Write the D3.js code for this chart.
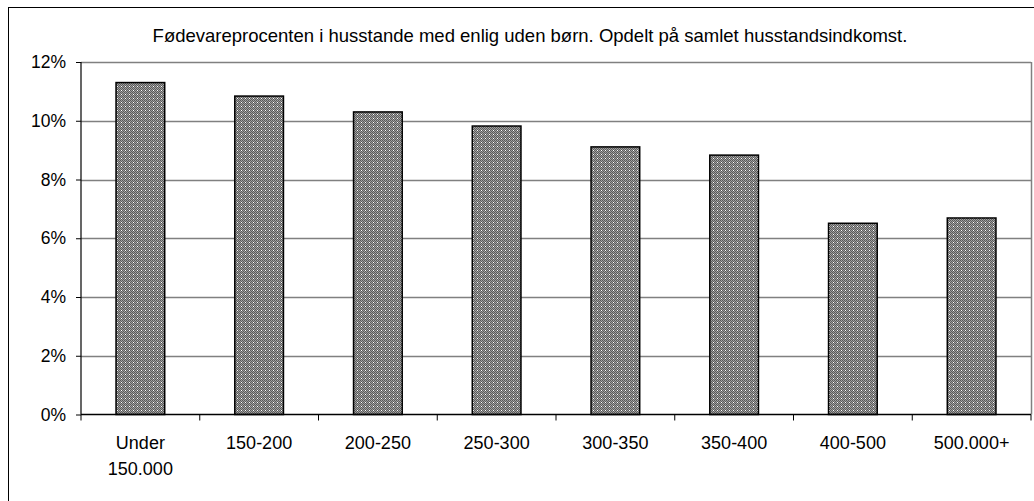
<!DOCTYPE html>
<html><head><meta charset="utf-8">
<script src="https://cdn.jsdelivr.net/npm/d3@7"></script>
<style>body{margin:0;background:#fff;} svg{display:block;}</style>
</head><body>
<script>
const categories = ["Under 150.000","150-200","200-250","250-300","300-350","350-400","400-500","500.000+"];
const values = [11.3, 10.84, 10.3, 9.82, 9.11, 8.83, 6.51, 6.69];
const yTicks = [0,2,4,6,8,10,12];
const title = "Fødevareprocenten i husstande med enlig uden børn. Opdelt på samlet husstandsindkomst.";

const W=1034,H=501;
const svg=d3.select("body").append("svg").attr("width",W).attr("height",H);
const font="'Liberation Sans', Arial, sans-serif";

const defs=svg.append("defs");
const pat=defs.append("pattern").attr("id","chk").attr("width",4).attr("height",4).attr("patternUnits","userSpaceOnUse");
pat.append("rect").attr("width",4).attr("height",4).attr("fill","#a0a0a0");
[[0,0],[2,0],[1,1],[3,1],[0,2],[2,2],[1,3],[3,3]].forEach(([px,py])=>pat.append("rect").attr("x",px).attr("y",py).attr("width",1).attr("height",1).attr("fill","#5a5a5a"));
pat.append("rect").attr("x",1).attr("y",2).attr("width",1).attr("height",1).attr("fill","#ffffff");

// outer frame
svg.append("rect").attr("x",8.5).attr("y",7.5).attr("width",1040).attr("height",520).attr("fill","none").attr("stroke","#000").attr("stroke-width",1);

const pLeft=81,pRight=1031,pTop=62,pBottom=414.5;
const x=d3.scaleBand().domain(categories).range([pLeft,pRight]).paddingInner(0.59).paddingOuter(0.295);
const xb=d3.scaleBand().domain(categories).range([pLeft,pRight]);
const y=d3.scaleLinear().domain([0,12]).range([pBottom,pTop]);

// gridlines
svg.append("g").selectAll("line").data(yTicks.filter(d=>d>0)).join("line")
 .attr("x1",pLeft).attr("x2",pRight).attr("y1",d=>Math.round(y(d))+0.5).attr("y2",d=>Math.round(y(d))+0.5)
 .attr("stroke","#808080").attr("stroke-width",1.5);
// right border
svg.append("line").attr("x1",pRight+0.5).attr("x2",pRight+0.5).attr("y1",pTop).attr("y2",pBottom).attr("stroke","#808080").attr("stroke-width",1.5);

// bars
svg.append("g").selectAll("rect").data(values).join("rect")
 .attr("x",(d,i)=>x(categories[i])).attr("width",x.bandwidth())
 .attr("y",d=>y(d)).attr("height",d=>pBottom-y(d))
 .attr("fill","url(#chk)").attr("stroke","#000").attr("stroke-width",1.5);

// y axis
const ya=svg.append("g").attr("transform",`translate(${pLeft},0)`)
 .call(d3.axisLeft(y).tickValues(yTicks).tickFormat(d=>d+"%").tickSize(5).tickPadding(10));
ya.select(".domain").attr("stroke","#000").attr("stroke-width",1.2).attr("d",`M0,${pTop}V${pBottom}`);
ya.selectAll(".tick line").attr("stroke","#000");
ya.selectAll("text").attr("font-family",font).attr("font-size",17.5).attr("fill","#000");

// x axis
const xa=svg.append("g").attr("transform",`translate(0,${pBottom})`);
xa.append("line").attr("x1",pLeft).attr("x2",pRight).attr("stroke","#000").attr("stroke-width",1.5);
const bounds=categories.map(c=>xb(c)).concat([pRight]);
xa.selectAll("line.t").data(bounds).join("line").attr("class","t")
 .attr("x1",d=>d).attr("x2",d=>d).attr("y1",0).attr("y2",6).attr("stroke","#000");
xa.selectAll("text").data(categories).join("text")
 .attr("x",d=>xb(d)+xb.bandwidth()/2).attr("y",34)
 .attr("text-anchor","middle").attr("font-family",font).attr("font-size",18).attr("fill","#000")
 .each(function(d){
   const parts=d.startsWith("Under")?["Under","150.000"]:[d];
   const t=d3.select(this);
   parts.forEach((p,i)=>t.append("tspan").attr("x",xb(d)+xb.bandwidth()/2).attr("dy",i?26:0).text(p));
 });

// title
svg.append("text").attr("x",530).attr("y",41.5).attr("text-anchor","middle")
 .attr("font-family",font).attr("font-size",18.5).attr("fill","#000").text(title);
</script>
</body></html>
